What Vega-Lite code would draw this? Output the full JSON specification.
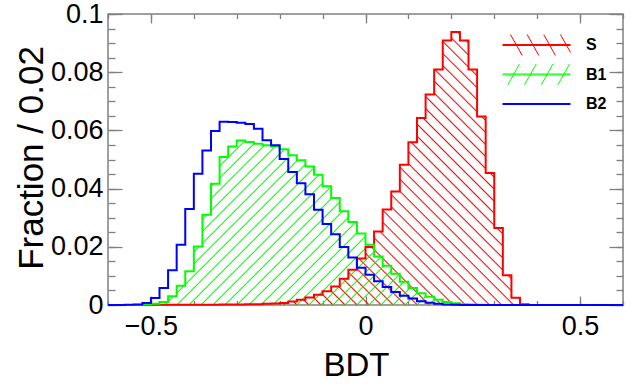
{
"$schema":"https://vega.github.io/schema/vega-lite/v6.json",
"width":515,"height":291,
"autosize":{"type":"none"},
"padding":{"left":108,"top":14,"right":21,"bottom":83},
"background":"white",
"config":{"view":{"stroke":"#808080","strokeWidth":1.5},"axis":{"labelFont":"Liberation Sans","titleFont":"Liberation Sans","domain":false,"grid":false,"tickColor":"#808080","tickWidth":1.3,"labelColor":"black","titleColor":"black"}},
"data":{"values":[
{"x":-0.6,"S":0,"B1":0,"B2":0},
{"x":-0.58,"S":0,"B1":0,"B2":0},
{"x":-0.56,"S":0,"B1":0,"B2":0.0001},
{"x":-0.54,"S":0,"B1":0.0001,"B2":0.0002},
{"x":-0.52,"S":0,"B1":0.0002,"B2":0.0007},
{"x":-0.5,"S":0.0001,"B1":0.0004,"B2":0.0024},
{"x":-0.48,"S":0.0001,"B1":0.001,"B2":0.0058},
{"x":-0.46,"S":0.0001,"B1":0.003,"B2":0.0119},
{"x":-0.44,"S":0.0001,"B1":0.0066,"B2":0.0207},
{"x":-0.42,"S":0.0001,"B1":0.0116,"B2":0.033},
{"x":-0.4,"S":0.0001,"B1":0.0201,"B2":0.0451},
{"x":-0.38,"S":0.0001,"B1":0.031,"B2":0.0531},
{"x":-0.36,"S":0.0001,"B1":0.0417,"B2":0.0598},
{"x":-0.34,"S":0.0002,"B1":0.0509,"B2":0.063},
{"x":-0.32,"S":0.0002,"B1":0.0545,"B2":0.0629},
{"x":-0.3,"S":0.0002,"B1":0.0565,"B2":0.0626},
{"x":-0.28,"S":0.0003,"B1":0.056,"B2":0.0622},
{"x":-0.26,"S":0.0003,"B1":0.0554,"B2":0.0606},
{"x":-0.24,"S":0.0004,"B1":0.0549,"B2":0.0566},
{"x":-0.22,"S":0.0005,"B1":0.0545,"B2":0.0549},
{"x":-0.2,"S":0.0007,"B1":0.0535,"B2":0.0502},
{"x":-0.18,"S":0.0012,"B1":0.0515,"B2":0.0457},
{"x":-0.16,"S":0.0018,"B1":0.0497,"B2":0.0418},
{"x":-0.14,"S":0.0026,"B1":0.0476,"B2":0.0381},
{"x":-0.12,"S":0.0035,"B1":0.0448,"B2":0.0327},
{"x":-0.1,"S":0.0047,"B1":0.0408,"B2":0.0278},
{"x":-0.08,"S":0.0064,"B1":0.0368,"B2":0.0243},
{"x":-0.06,"S":0.009,"B1":0.0322,"B2":0.0199},
{"x":-0.04,"S":0.0121,"B1":0.0285,"B2":0.0163},
{"x":-0.02,"S":0.016,"B1":0.0246,"B2":0.0128},
{"x":0,"S":0.0199,"B1":0.0207,"B2":0.0104},
{"x":0.02,"S":0.0253,"B1":0.0167,"B2":0.0082},
{"x":0.04,"S":0.0328,"B1":0.0135,"B2":0.0062},
{"x":0.06,"S":0.039,"B1":0.0107,"B2":0.0045},
{"x":0.08,"S":0.0482,"B1":0.008,"B2":0.0032},
{"x":0.1,"S":0.0559,"B1":0.0058,"B2":0.0022},
{"x":0.12,"S":0.0643,"B1":0.004,"B2":0.0013},
{"x":0.14,"S":0.0723,"B1":0.0028,"B2":0.0008},
{"x":0.16,"S":0.0809,"B1":0.0018,"B2":0.0004},
{"x":0.18,"S":0.0909,"B1":0.001,"B2":0.0002},
{"x":0.2,"S":0.0938,"B1":0.0006,"B2":0.0001},
{"x":0.22,"S":0.0909,"B1":0.0003,"B2":0},
{"x":0.24,"S":0.0809,"B1":0.0002,"B2":0},
{"x":0.26,"S":0.0648,"B1":0.0001,"B2":0},
{"x":0.28,"S":0.0454,"B1":0,"B2":0},
{"x":0.3,"S":0.0265,"B1":0,"B2":0},
{"x":0.32,"S":0.0102,"B1":0,"B2":0},
{"x":0.34,"S":0.0025,"B1":0,"B2":0},
{"x":0.36,"S":0.0003,"B1":0,"B2":0},
{"x":0.38,"S":0,"B1":0,"B2":0},
{"x":0.4,"S":0,"B1":0,"B2":0},
{"x":0.42,"S":0,"B1":0,"B2":0},
{"x":0.44,"S":0,"B1":0,"B2":0},
{"x":0.46,"S":0,"B1":0,"B2":0},
{"x":0.48,"S":0,"B1":0,"B2":0},
{"x":0.5,"S":0,"B1":0,"B2":0},
{"x":0.52,"S":0,"B1":0,"B2":0},
{"x":0.54,"S":0,"B1":0,"B2":0},
{"x":0.56,"S":0,"B1":0,"B2":0},
{"x":0.58,"S":0,"B1":0,"B2":0},
{"x":0.6,"S":0,"B1":0,"B2":0}
]},
"layer":[
{"transform":[{"filter":"datum.x >= -0.3 && datum.x <= 0.4"}],
 "mark":{"type":"area","interpolate":"step-after","opacity":1,"fillOpacity":1,
  "fill":{"gradient":"linear","x1":0,"y1":1,"x2":1.0455,"y2":0.0501,"stops":[
{"offset":0.0185,"color":"rgba(255,0,0,0)"},{"offset":0.021,"color":"#ff0000"},{"offset":0.0235,"color":"rgba(255,0,0,0)"},
{"offset":0.0395,"color":"rgba(255,0,0,0)"},{"offset":0.042,"color":"#ff0000"},{"offset":0.0445,"color":"rgba(255,0,0,0)"},
{"offset":0.0605,"color":"rgba(255,0,0,0)"},{"offset":0.063,"color":"#ff0000"},{"offset":0.0655,"color":"rgba(255,0,0,0)"},
{"offset":0.0815,"color":"rgba(255,0,0,0)"},{"offset":0.084,"color":"#ff0000"},{"offset":0.0865,"color":"rgba(255,0,0,0)"},
{"offset":0.1025,"color":"rgba(255,0,0,0)"},{"offset":0.105,"color":"#ff0000"},{"offset":0.1075,"color":"rgba(255,0,0,0)"},
{"offset":0.1235,"color":"rgba(255,0,0,0)"},{"offset":0.126,"color":"#ff0000"},{"offset":0.1285,"color":"rgba(255,0,0,0)"},
{"offset":0.1445,"color":"rgba(255,0,0,0)"},{"offset":0.147,"color":"#ff0000"},{"offset":0.1495,"color":"rgba(255,0,0,0)"},
{"offset":0.1655,"color":"rgba(255,0,0,0)"},{"offset":0.168,"color":"#ff0000"},{"offset":0.1705,"color":"rgba(255,0,0,0)"},
{"offset":0.1865,"color":"rgba(255,0,0,0)"},{"offset":0.189,"color":"#ff0000"},{"offset":0.1915,"color":"rgba(255,0,0,0)"},
{"offset":0.2075,"color":"rgba(255,0,0,0)"},{"offset":0.21,"color":"#ff0000"},{"offset":0.2125,"color":"rgba(255,0,0,0)"},
{"offset":0.2285,"color":"rgba(255,0,0,0)"},{"offset":0.231,"color":"#ff0000"},{"offset":0.2335,"color":"rgba(255,0,0,0)"},
{"offset":0.2495,"color":"rgba(255,0,0,0)"},{"offset":0.252,"color":"#ff0000"},{"offset":0.2545,"color":"rgba(255,0,0,0)"},
{"offset":0.2705,"color":"rgba(255,0,0,0)"},{"offset":0.273,"color":"#ff0000"},{"offset":0.2755,"color":"rgba(255,0,0,0)"},
{"offset":0.2915,"color":"rgba(255,0,0,0)"},{"offset":0.294,"color":"#ff0000"},{"offset":0.2965,"color":"rgba(255,0,0,0)"},
{"offset":0.3125,"color":"rgba(255,0,0,0)"},{"offset":0.315,"color":"#ff0000"},{"offset":0.3175,"color":"rgba(255,0,0,0)"},
{"offset":0.3335,"color":"rgba(255,0,0,0)"},{"offset":0.336,"color":"#ff0000"},{"offset":0.3385,"color":"rgba(255,0,0,0)"},
{"offset":0.3545,"color":"rgba(255,0,0,0)"},{"offset":0.357,"color":"#ff0000"},{"offset":0.3595,"color":"rgba(255,0,0,0)"},
{"offset":0.3755,"color":"rgba(255,0,0,0)"},{"offset":0.378,"color":"#ff0000"},{"offset":0.3805,"color":"rgba(255,0,0,0)"},
{"offset":0.3965,"color":"rgba(255,0,0,0)"},{"offset":0.399,"color":"#ff0000"},{"offset":0.4015,"color":"rgba(255,0,0,0)"},
{"offset":0.4175,"color":"rgba(255,0,0,0)"},{"offset":0.42,"color":"#ff0000"},{"offset":0.4225,"color":"rgba(255,0,0,0)"},
{"offset":0.4385,"color":"rgba(255,0,0,0)"},{"offset":0.441,"color":"#ff0000"},{"offset":0.4435,"color":"rgba(255,0,0,0)"},
{"offset":0.4595,"color":"rgba(255,0,0,0)"},{"offset":0.462,"color":"#ff0000"},{"offset":0.4645,"color":"rgba(255,0,0,0)"},
{"offset":0.4805,"color":"rgba(255,0,0,0)"},{"offset":0.483,"color":"#ff0000"},{"offset":0.4855,"color":"rgba(255,0,0,0)"},
{"offset":0.5015,"color":"rgba(255,0,0,0)"},{"offset":0.504,"color":"#ff0000"},{"offset":0.5065,"color":"rgba(255,0,0,0)"},
{"offset":0.5225,"color":"rgba(255,0,0,0)"},{"offset":0.525,"color":"#ff0000"},{"offset":0.5275,"color":"rgba(255,0,0,0)"},
{"offset":0.5435,"color":"rgba(255,0,0,0)"},{"offset":0.546,"color":"#ff0000"},{"offset":0.5485,"color":"rgba(255,0,0,0)"},
{"offset":0.5645,"color":"rgba(255,0,0,0)"},{"offset":0.567,"color":"#ff0000"},{"offset":0.5695,"color":"rgba(255,0,0,0)"},
{"offset":0.5855,"color":"rgba(255,0,0,0)"},{"offset":0.588,"color":"#ff0000"},{"offset":0.5905,"color":"rgba(255,0,0,0)"},
{"offset":0.6065,"color":"rgba(255,0,0,0)"},{"offset":0.609,"color":"#ff0000"},{"offset":0.6115,"color":"rgba(255,0,0,0)"},
{"offset":0.6275,"color":"rgba(255,0,0,0)"},{"offset":0.63,"color":"#ff0000"},{"offset":0.6325,"color":"rgba(255,0,0,0)"},
{"offset":0.6485,"color":"rgba(255,0,0,0)"},{"offset":0.651,"color":"#ff0000"},{"offset":0.6535,"color":"rgba(255,0,0,0)"},
{"offset":0.6695,"color":"rgba(255,0,0,0)"},{"offset":0.672,"color":"#ff0000"},{"offset":0.6745,"color":"rgba(255,0,0,0)"},
{"offset":0.6905,"color":"rgba(255,0,0,0)"},{"offset":0.693,"color":"#ff0000"},{"offset":0.6955,"color":"rgba(255,0,0,0)"},
{"offset":0.7115,"color":"rgba(255,0,0,0)"},{"offset":0.714,"color":"#ff0000"},{"offset":0.7165,"color":"rgba(255,0,0,0)"},
{"offset":0.7325,"color":"rgba(255,0,0,0)"},{"offset":0.735,"color":"#ff0000"},{"offset":0.7375,"color":"rgba(255,0,0,0)"},
{"offset":0.7535,"color":"rgba(255,0,0,0)"},{"offset":0.756,"color":"#ff0000"},{"offset":0.7585,"color":"rgba(255,0,0,0)"},
{"offset":0.7745,"color":"rgba(255,0,0,0)"},{"offset":0.777,"color":"#ff0000"},{"offset":0.7795,"color":"rgba(255,0,0,0)"},
{"offset":0.7955,"color":"rgba(255,0,0,0)"},{"offset":0.798,"color":"#ff0000"},{"offset":0.8005,"color":"rgba(255,0,0,0)"},
{"offset":0.8165,"color":"rgba(255,0,0,0)"},{"offset":0.819,"color":"#ff0000"},{"offset":0.8215,"color":"rgba(255,0,0,0)"},
{"offset":0.8375,"color":"rgba(255,0,0,0)"},{"offset":0.84,"color":"#ff0000"},{"offset":0.8425,"color":"rgba(255,0,0,0)"},
{"offset":0.8585,"color":"rgba(255,0,0,0)"},{"offset":0.861,"color":"#ff0000"},{"offset":0.8635,"color":"rgba(255,0,0,0)"},
{"offset":0.8795,"color":"rgba(255,0,0,0)"},{"offset":0.882,"color":"#ff0000"},{"offset":0.8845,"color":"rgba(255,0,0,0)"},
{"offset":0.9005,"color":"rgba(255,0,0,0)"},{"offset":0.903,"color":"#ff0000"},{"offset":0.9055,"color":"rgba(255,0,0,0)"},
{"offset":0.9215,"color":"rgba(255,0,0,0)"},{"offset":0.924,"color":"#ff0000"},{"offset":0.9265,"color":"rgba(255,0,0,0)"},
{"offset":0.9425,"color":"rgba(255,0,0,0)"},{"offset":0.945,"color":"#ff0000"},{"offset":0.9475,"color":"rgba(255,0,0,0)"},
{"offset":0.9635,"color":"rgba(255,0,0,0)"},{"offset":0.966,"color":"#ff0000"},{"offset":0.9685,"color":"rgba(255,0,0,0)"},
{"offset":0.9845,"color":"rgba(255,0,0,0)"},{"offset":0.987,"color":"#ff0000"},{"offset":0.9895,"color":"rgba(255,0,0,0)"}
]}},
 "encoding":{
  "x":{"field":"x","type":"quantitative","scale":{"domain":[-0.6,0.6],"nice":false,"zero":false},
   "axis":{"orient":"top","values":[-0.6,-0.5,-0.4,-0.3,-0.2,-0.1,0,0.1,0.2,0.3,0.4,0.5,0.6],"tickSize":-4.5,"labels":false,"title":null}},
  "y":{"field":"S","type":"quantitative","scale":{"domain":[0,0.1],"nice":false},
   "axis":{"orient":"right","values":[0,0.005,0.01,0.015,0.02,0.025,0.03,0.035,0.04,0.045,0.05,0.055,0.06,0.065,0.07,0.075,0.08,0.085,0.09,0.095,0.1],"tickSize":-7,"labels":false,"title":null}}
 }},
{"transform":[{"filter":"datum.x >= -0.56 && datum.x <= 0.3"}],
 "mark":{"type":"area","interpolate":"step-after","opacity":1,"fillOpacity":1,
  "fill":{"gradient":"linear","x1":0,"y1":0,"x2":1.2061,"y2":0.5372,"stops":[
{"offset":0.0198,"color":"rgba(0,255,0,0)"},{"offset":0.0225,"color":"#00ff00"},{"offset":0.0252,"color":"rgba(0,255,0,0)"},
{"offset":0.0423,"color":"rgba(0,255,0,0)"},{"offset":0.045,"color":"#00ff00"},{"offset":0.0477,"color":"rgba(0,255,0,0)"},
{"offset":0.0648,"color":"rgba(0,255,0,0)"},{"offset":0.0675,"color":"#00ff00"},{"offset":0.0702,"color":"rgba(0,255,0,0)"},
{"offset":0.0873,"color":"rgba(0,255,0,0)"},{"offset":0.09,"color":"#00ff00"},{"offset":0.0927,"color":"rgba(0,255,0,0)"},
{"offset":0.1098,"color":"rgba(0,255,0,0)"},{"offset":0.1125,"color":"#00ff00"},{"offset":0.1152,"color":"rgba(0,255,0,0)"},
{"offset":0.1323,"color":"rgba(0,255,0,0)"},{"offset":0.135,"color":"#00ff00"},{"offset":0.1377,"color":"rgba(0,255,0,0)"},
{"offset":0.1548,"color":"rgba(0,255,0,0)"},{"offset":0.1575,"color":"#00ff00"},{"offset":0.1602,"color":"rgba(0,255,0,0)"},
{"offset":0.1773,"color":"rgba(0,255,0,0)"},{"offset":0.18,"color":"#00ff00"},{"offset":0.1827,"color":"rgba(0,255,0,0)"},
{"offset":0.1998,"color":"rgba(0,255,0,0)"},{"offset":0.2025,"color":"#00ff00"},{"offset":0.2052,"color":"rgba(0,255,0,0)"},
{"offset":0.2223,"color":"rgba(0,255,0,0)"},{"offset":0.225,"color":"#00ff00"},{"offset":0.2277,"color":"rgba(0,255,0,0)"},
{"offset":0.2448,"color":"rgba(0,255,0,0)"},{"offset":0.2475,"color":"#00ff00"},{"offset":0.2502,"color":"rgba(0,255,0,0)"},
{"offset":0.2673,"color":"rgba(0,255,0,0)"},{"offset":0.27,"color":"#00ff00"},{"offset":0.2727,"color":"rgba(0,255,0,0)"},
{"offset":0.2898,"color":"rgba(0,255,0,0)"},{"offset":0.2925,"color":"#00ff00"},{"offset":0.2952,"color":"rgba(0,255,0,0)"},
{"offset":0.3123,"color":"rgba(0,255,0,0)"},{"offset":0.315,"color":"#00ff00"},{"offset":0.3177,"color":"rgba(0,255,0,0)"},
{"offset":0.3348,"color":"rgba(0,255,0,0)"},{"offset":0.3375,"color":"#00ff00"},{"offset":0.3402,"color":"rgba(0,255,0,0)"},
{"offset":0.3573,"color":"rgba(0,255,0,0)"},{"offset":0.36,"color":"#00ff00"},{"offset":0.3627,"color":"rgba(0,255,0,0)"},
{"offset":0.3798,"color":"rgba(0,255,0,0)"},{"offset":0.3825,"color":"#00ff00"},{"offset":0.3852,"color":"rgba(0,255,0,0)"},
{"offset":0.4023,"color":"rgba(0,255,0,0)"},{"offset":0.405,"color":"#00ff00"},{"offset":0.4077,"color":"rgba(0,255,0,0)"},
{"offset":0.4248,"color":"rgba(0,255,0,0)"},{"offset":0.4275,"color":"#00ff00"},{"offset":0.4302,"color":"rgba(0,255,0,0)"},
{"offset":0.4473,"color":"rgba(0,255,0,0)"},{"offset":0.45,"color":"#00ff00"},{"offset":0.4527,"color":"rgba(0,255,0,0)"},
{"offset":0.4698,"color":"rgba(0,255,0,0)"},{"offset":0.4725,"color":"#00ff00"},{"offset":0.4752,"color":"rgba(0,255,0,0)"},
{"offset":0.4923,"color":"rgba(0,255,0,0)"},{"offset":0.495,"color":"#00ff00"},{"offset":0.4977,"color":"rgba(0,255,0,0)"},
{"offset":0.5148,"color":"rgba(0,255,0,0)"},{"offset":0.5175,"color":"#00ff00"},{"offset":0.5202,"color":"rgba(0,255,0,0)"},
{"offset":0.5373,"color":"rgba(0,255,0,0)"},{"offset":0.54,"color":"#00ff00"},{"offset":0.5427,"color":"rgba(0,255,0,0)"},
{"offset":0.5598,"color":"rgba(0,255,0,0)"},{"offset":0.5625,"color":"#00ff00"},{"offset":0.5652,"color":"rgba(0,255,0,0)"},
{"offset":0.5823,"color":"rgba(0,255,0,0)"},{"offset":0.585,"color":"#00ff00"},{"offset":0.5877,"color":"rgba(0,255,0,0)"},
{"offset":0.6048,"color":"rgba(0,255,0,0)"},{"offset":0.6075,"color":"#00ff00"},{"offset":0.6102,"color":"rgba(0,255,0,0)"},
{"offset":0.6273,"color":"rgba(0,255,0,0)"},{"offset":0.63,"color":"#00ff00"},{"offset":0.6327,"color":"rgba(0,255,0,0)"},
{"offset":0.6498,"color":"rgba(0,255,0,0)"},{"offset":0.6525,"color":"#00ff00"},{"offset":0.6552,"color":"rgba(0,255,0,0)"},
{"offset":0.6723,"color":"rgba(0,255,0,0)"},{"offset":0.675,"color":"#00ff00"},{"offset":0.6777,"color":"rgba(0,255,0,0)"},
{"offset":0.6948,"color":"rgba(0,255,0,0)"},{"offset":0.6975,"color":"#00ff00"},{"offset":0.7002,"color":"rgba(0,255,0,0)"},
{"offset":0.7173,"color":"rgba(0,255,0,0)"},{"offset":0.72,"color":"#00ff00"},{"offset":0.7227,"color":"rgba(0,255,0,0)"},
{"offset":0.7398,"color":"rgba(0,255,0,0)"},{"offset":0.7425,"color":"#00ff00"},{"offset":0.7452,"color":"rgba(0,255,0,0)"},
{"offset":0.7623,"color":"rgba(0,255,0,0)"},{"offset":0.765,"color":"#00ff00"},{"offset":0.7677,"color":"rgba(0,255,0,0)"},
{"offset":0.7848,"color":"rgba(0,255,0,0)"},{"offset":0.7875,"color":"#00ff00"},{"offset":0.7902,"color":"rgba(0,255,0,0)"},
{"offset":0.8073,"color":"rgba(0,255,0,0)"},{"offset":0.81,"color":"#00ff00"},{"offset":0.8127,"color":"rgba(0,255,0,0)"},
{"offset":0.8298,"color":"rgba(0,255,0,0)"},{"offset":0.8325,"color":"#00ff00"},{"offset":0.8352,"color":"rgba(0,255,0,0)"},
{"offset":0.8523,"color":"rgba(0,255,0,0)"},{"offset":0.855,"color":"#00ff00"},{"offset":0.8577,"color":"rgba(0,255,0,0)"},
{"offset":0.8748,"color":"rgba(0,255,0,0)"},{"offset":0.8775,"color":"#00ff00"},{"offset":0.8802,"color":"rgba(0,255,0,0)"},
{"offset":0.8973,"color":"rgba(0,255,0,0)"},{"offset":0.9,"color":"#00ff00"},{"offset":0.9027,"color":"rgba(0,255,0,0)"},
{"offset":0.9198,"color":"rgba(0,255,0,0)"},{"offset":0.9225,"color":"#00ff00"},{"offset":0.9252,"color":"rgba(0,255,0,0)"},
{"offset":0.9423,"color":"rgba(0,255,0,0)"},{"offset":0.945,"color":"#00ff00"},{"offset":0.9477,"color":"rgba(0,255,0,0)"},
{"offset":0.9648,"color":"rgba(0,255,0,0)"},{"offset":0.9675,"color":"#00ff00"},{"offset":0.9702,"color":"rgba(0,255,0,0)"},
{"offset":0.9873,"color":"rgba(0,255,0,0)"},{"offset":0.99,"color":"#00ff00"},{"offset":0.9927,"color":"rgba(0,255,0,0)"}
]}},
 "encoding":{
  "x":{"field":"x","type":"quantitative","axis":null},
  "y":{"field":"B1","type":"quantitative","axis":null}
 }},
{"mark":{"type":"line","interpolate":"step-after","color":"#ff0000","strokeWidth":2},
 "encoding":{
  "x":{"field":"x","type":"quantitative",
   "axis":{"orient":"bottom","values":[-0.5,0,0.5],"format":"~g","tickSize":-9,"labelPadding":38,"labelBaseline":"alphabetic","labelFontSize":27,"labelFlush":false,"labelOverlap":false,"title":"BDT","titleFontSize":33,"titleFontWeight":"normal","titleX":248,"titleY":70,"titleBaseline":"alphabetic","titleAlign":"center"}},
  "y":{"field":"S","type":"quantitative",
   "axis":{"orient":"left","values":[0,0.02,0.04,0.06,0.08,0.1],"format":"~g","tickSize":-14,"labelPadding":19,"labelFontSize":27,"labelBaseline":"middle","labelFlush":false,"labelOverlap":false,"title":"Fraction / 0.02","titleFontSize":35,"titleFontWeight":"normal","titleX":-66,"titleY":143.5,"titleAngle":-90,"titleBaseline":"alphabetic","titleAlign":"center"}}
 }},
{"mark":{"type":"line","interpolate":"step-after","color":"#00ff00","strokeWidth":2},
 "encoding":{
  "x":{"field":"x","type":"quantitative",
   "axis":{"orient":"bottom","values":[-0.6,-0.5,-0.4,-0.3,-0.2,-0.1,0,0.1,0.2,0.3,0.4,0.5,0.6],"tickSize":-4.5,"labels":false,"title":null}},
  "y":{"field":"B1","type":"quantitative",
   "axis":{"orient":"left","values":[0,0.005,0.01,0.015,0.02,0.025,0.03,0.035,0.04,0.045,0.05,0.055,0.06,0.065,0.07,0.075,0.08,0.085,0.09,0.095,0.1],"tickSize":-7,"labels":false,"title":null}}
 }},
{"mark":{"type":"line","interpolate":"step-after","color":"#0000ff","strokeWidth":2},
 "encoding":{
  "x":{"field":"x","type":"quantitative",
   "axis":{"orient":"top","values":[-0.5,0,0.5],"tickSize":-9,"labels":false,"title":null}},
  "y":{"field":"B2","type":"quantitative",
   "axis":{"orient":"right","values":[0,0.02,0.04,0.06,0.08,0.1],"tickSize":-14,"labels":false,"title":null}}
 }},
{"data":{"values":[{"k":"S"},{"k":"B1"},{"k":"B2"}]},
 "mark":{"type":"point","filled":false,"opacity":0,"size":484},
 "encoding":{
  "color":{"field":"k","type":"nominal","scale":{"domain":["S","B1","B2"],"range":["#ff0000","#00ff00","#0000ff"]},
   "legend":{"title":null,"orient":"none","legendX":417,"legendY":19.5,"padding":0,"symbolSize":484,"symbolStrokeWidth":1,"symbolOpacity":1,"symbolFillColor":"transparent","labelFont":"Liberation Sans","labelFontSize":16,"labelFontWeight":"bold","labelColor":"black","labelOffset":38,"rowPadding":4.5,"direction":"vertical"}},
  "shape":{"field":"k","type":"nominal","scale":{"domain":["S","B1","B2"],"range":[
    "M-3.09,-0.95L-3.09,-0.95M3.09,0.95L3.09,0.95M-2.36,-0.95L-1.3,0.95M-0.85,-0.95L0.21,0.95M0.66,-0.95L1.72,0.95M2.18,-0.95L3.09,0.68",
    "M-3.09,-0.95L-3.09,-0.95M3.09,0.95L3.09,0.95M-2.61,0.95L-1.55,-0.95M-1.09,0.95L-0.03,-0.95M0.43,0.95L1.49,-0.95M1.94,0.95L3.0,-0.95",
    "M-3.09,-0.95L-3.09,-0.95M3.09,0.95L3.09,0.95"]},
   "legend":{"title":null,"orient":"none","legendX":417,"legendY":19.5,"padding":0,"symbolSize":484,"symbolStrokeWidth":1,"symbolOpacity":1,"symbolFillColor":"transparent","labelFont":"Liberation Sans","labelFontSize":16,"labelFontWeight":"bold","labelColor":"black","labelOffset":38,"rowPadding":4.5,"direction":"vertical"}}
 }},
{"data":{"values":[{"k2":"s"},{"k2":"b1"},{"k2":"b2"}]},
 "mark":{"type":"point","filled":false,"opacity":0,"size":484},
 "encoding":{
  "stroke":{"field":"k2","type":"nominal","scale":{"domain":["s","b1","b2"],"range":["#ff0000","#00ff00","#0000ff"]},
   "legend":{"title":null,"orient":"none","legendX":417,"legendY":19.5,"padding":0,"symbolType":"M-3.09,-0.95L-3.09,-0.95M3.09,0.95L3.09,0.95M-3.09,-0.045H3.09M-3.09,0.045H3.09","symbolSize":484,"symbolStrokeWidth":1,"symbolOpacity":1,"symbolFillColor":"transparent","labelFont":"Liberation Sans","labelFontSize":16,"labelFontWeight":"bold","labelExpr":"' '","labelOpacity":0,"labelOffset":38,"rowPadding":4.5,"direction":"vertical"}}
 }}
],
"resolve":{"axis":{"x":"independent","y":"independent"}}
}
